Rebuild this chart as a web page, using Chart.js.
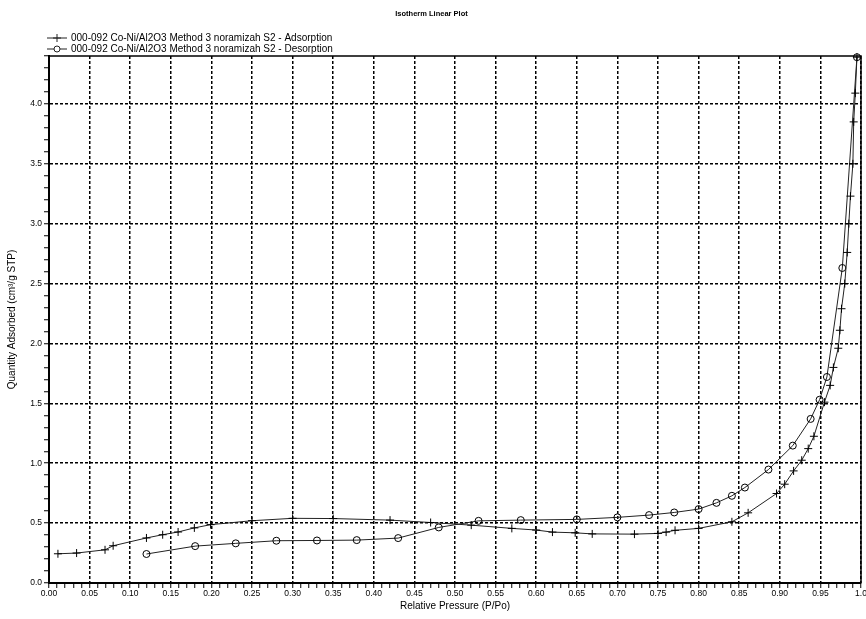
<!DOCTYPE html>
<html lang="en">
<head>
  <meta charset="UTF-8">
  <title>Isotherm Linear Plot</title>
  <script src="https://cdn.jsdelivr.net/npm/chart.js"></script>
  <style>
    body { margin: 0; background: #fff; }
  </style>
</head>
<body>
  <canvas id="chart" width="866" height="619"></canvas>

  <script>
    // valores (P/Po, cm3/g STP)
    const adsLabel = '000-092 Co-Ni/Al2O3 Method 3 noramizah S2 - Adsorption';
    const desLabel = '000-092 Co-Ni/Al2O3 Method 3 noramizah S2 - Desorption';

    const adsX = [0.011, 0.034, 0.069, 0.079, 0.120, 0.140, 0.159, 0.179, 0.199, 0.250, 0.300, 0.350,
                  0.420, 0.470, 0.520, 0.570, 0.600, 0.620, 0.648, 0.669, 0.721, 0.750, 0.760, 0.771,
                  0.800, 0.841, 0.861, 0.896, 0.906, 0.917, 0.927, 0.935, 0.942, 0.955, 0.962, 0.966,
                  0.972, 0.974, 0.976, 0.980, 0.983, 0.985, 0.987, 0.990, 0.991, 0.993, 0.995];
    const adsY = [0.244, 0.250, 0.277, 0.311, 0.376, 0.403, 0.426, 0.460, 0.487, 0.520, 0.540, 0.538,
                  0.525, 0.505, 0.483, 0.456, 0.442, 0.425, 0.419, 0.410, 0.408, 0.414, 0.425, 0.440,
                  0.456, 0.511, 0.586, 0.747, 0.825, 0.936, 1.025, 1.122, 1.225, 1.510, 1.650, 1.800,
                  1.960, 2.110, 2.290, 2.500, 2.760, 3.000, 3.230, 3.500, 3.850, 4.090, 4.390];

    const desX = [0.995, 0.977, 0.958, 0.949, 0.938, 0.916, 0.886, 0.857, 0.841, 0.822, 0.800, 0.770,
                  0.739, 0.700, 0.650, 0.581, 0.529, 0.480, 0.430, 0.379, 0.330, 0.280, 0.230, 0.180, 0.120];
    const desY = [4.390, 2.630, 1.720, 1.530, 1.370, 1.147, 0.947, 0.797, 0.728, 0.669, 0.617, 0.589,
                  0.567, 0.548, 0.531, 0.525, 0.519, 0.464, 0.375, 0.358, 0.355, 0.353, 0.331, 0.308, 0.242];

    const xMin = 0, xMax = 1.0, xStep = 0.01;
    const yMin = 0, yMax = 4.4, yStep = 0.1;

    const fonte = "'Liberation Sans', Arial, sans-serif";

    function pontos(xs, ys) {
      return xs.map((x, i) => ({ x: x, y: ys[i] }));
    }

    // major = múltiplo de 0.05 (x) ou 0.5 (y)
    const majorX = v => Math.round(v * 100) % 5 === 0;
    const majorY = v => Math.round(v * 10) % 5 === 0;

    // legenda empilhada à esquerda (a do Chart.js não quebra linha)
    const legendaEmpilhada = {
      id: 'legendaEmpilhada',
      afterDraw(chart) {
        const ctx = chart.ctx;
        const left = chart.chartArea.left - 2;
        chart.data.datasets.forEach((ds, i) => {
          const y = 38 + i * 11;
          ctx.save();
          ctx.strokeStyle = '#222';
          ctx.lineWidth = 1;
          ctx.beginPath();
          ctx.moveTo(left, y);
          ctx.lineTo(left + 20, y);
          ctx.stroke();
          const cx = left + 10;
          ctx.beginPath();
          if (ds.pointStyle === 'cross') {
            ctx.moveTo(cx - 4, y); ctx.lineTo(cx + 4, y);
            ctx.moveTo(cx, y - 4); ctx.lineTo(cx, y + 4);
          } else {
            ctx.arc(cx, y, 3, 0, Math.PI * 2);
            ctx.fillStyle = '#fff';
            ctx.fill();
          }
          ctx.stroke();
          ctx.fillStyle = '#000';
          ctx.font = '10px ' + fonte;
          ctx.textBaseline = 'middle';
          ctx.fillText(ds.label, left + 24, y);
          ctx.restore();
        });
      }
    };

    // moldura de cima e da direita
    const moldura = {
      id: 'moldura',
      afterDatasetsDraw(chart) {
        const { ctx, chartArea: a } = chart;
        ctx.save();
        ctx.strokeStyle = '#000';
        ctx.lineWidth = 1.5;
        ctx.beginPath();
        ctx.moveTo(a.left, a.top);
        ctx.lineTo(a.right, a.top);
        ctx.lineTo(a.right, a.bottom);
        ctx.stroke();
        ctx.restore();
      }
    };

    const ctx = document.getElementById('chart').getContext('2d');
    new Chart(ctx, {
      type: 'scatter',
      data: {
        datasets: [{
          label: adsLabel,
          data: pontos(adsX, adsY),
          showLine: true,
          borderColor: '#222',
          borderWidth: 1,
          pointStyle: 'cross',
          pointRadius: 4,
          pointBorderWidth: 1,
          pointBorderColor: '#000',
          clip: false
        }, {
          label: desLabel,
          data: pontos(desX, desY),
          showLine: true,
          borderColor: '#222',
          borderWidth: 1,
          pointStyle: 'circle',
          pointRadius: 3.5,
          pointBorderWidth: 1,
          pointBorderColor: '#000',
          pointBackgroundColor: 'rgba(255,255,255,0)',
          clip: false
        }]
      },
      options: {
        responsive: false,
        animation: false,
        layout: { padding: { right: 3 } },
        plugins: {
          legend: { display: false },
          tooltip: { enabled: false },
          title: {
            display: true,
            text: 'Isotherm Linear Plot',
            color: '#000',
            font: { family: fonte, size: 7.5, weight: 'bold' },
            padding: { top: 9, bottom: 38 }
          }
        },
        scales: {
          x: {
            type: 'linear',
            min: xMin,
            max: xMax,
            afterFit: s => { s.height = 36; s.paddingLeft = 0; s.paddingRight = 0; },
            ticks: {
              stepSize: xStep,
              autoSkip: false,
              maxRotation: 0,
              padding: 1,
              color: '#000',
              font: { family: fonte, size: 8.5 },
              callback: v => majorX(v) ? (Math.abs(v - 1) < 1e-9 ? '1.0' : v.toFixed(2)) : ''
            },
            grid: {
              color: c => (c.tick && majorX(c.tick.value)) ? '#000' : 'rgba(0,0,0,0)',
              lineWidth: 1.5,
              tickColor: '#000',
              tickWidth: 1,
              tickLength: 5
            },
            border: { display: true, color: '#000', width: 2, dash: [3, 2] },
            title: {
              display: true,
              text: 'Relative Pressure (P/Po)',
              color: '#000',
              font: { family: fonte, size: 10 },
              padding: { top: 0, bottom: 7 }
            }
          },
          y: {
            type: 'linear',
            min: yMin,
            max: yMax,
            afterFit: s => { s.width = 49; s.paddingTop = 0; s.paddingBottom = 0; },
            ticks: {
              stepSize: yStep,
              autoSkip: false,
              padding: 2,
              color: '#000',
              font: { family: fonte, size: 8.5 },
              callback: v => majorY(v) ? v.toFixed(1) : ''
            },
            grid: {
              color: c => (c.tick && majorY(c.tick.value)) ? '#000' : 'rgba(0,0,0,0)',
              lineWidth: 1.5,
              tickColor: '#000',
              tickWidth: 1,
              tickLength: 5
            },
            border: { display: true, color: '#000', width: 2, dash: [3, 2] },
            title: {
              display: true,
              text: 'Quantity Adsorbed (cm³/g STP)',
              color: '#000',
              font: { family: fonte, size: 10 },
              padding: { top: 6, bottom: 0 }
            }
          }
        }
      },
      plugins: [legendaEmpilhada, moldura]
    });
  </script>
</body>
</html>
